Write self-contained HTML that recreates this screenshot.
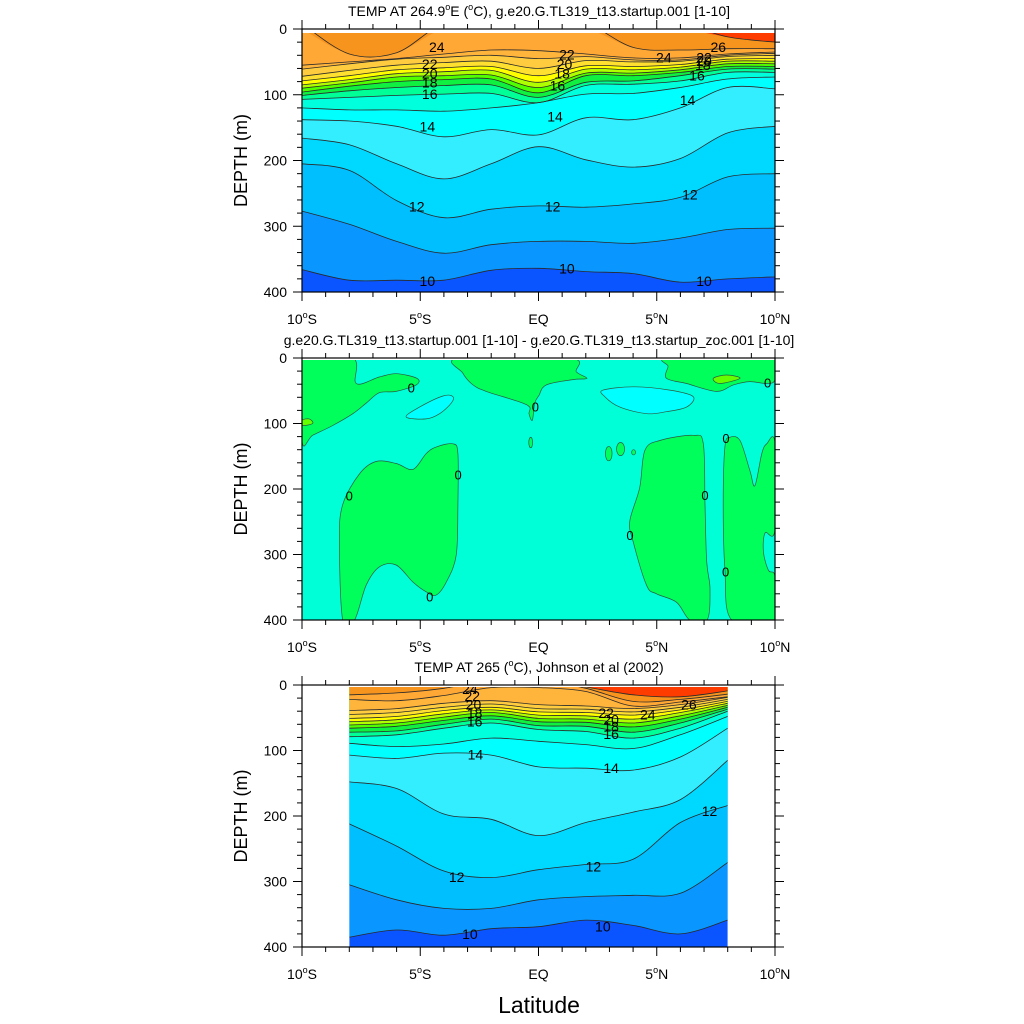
<!DOCTYPE html>
<html><head><meta charset="utf-8"><title>TEMP sections</title>
<style>
html,body{margin:0;padding:0;background:#fff;}
svg{display:block;font-family:"Liberation Sans",Arial,sans-serif;}
</style></head>
<body>
<svg id="chart" width="1024" height="1024" viewBox="0 0 1024 1024" xmlns="http://www.w3.org/2000/svg">
<g id="root"></g>
</svg>
<script>
// ---------- shared axes ----------
const xTickLats = [-10, -5, 0, 5, 10];
const xTickLabels = ["10°S", "5°S", "EQ", "5°N", "10°N"];
const yTickDepths = [0, 100, 200, 300, 400];

// ---------- panel 1: model temperature ----------
const p1Lats = [-10, -8, -6, -4, -2, 0, 2, 4, 6, 8, 10];
const p1T10 = [366, 382, 382, 382, 367, 364, 369, 372, 385, 380, 377];
const p1T11 = [277, 297, 323, 341, 328, 323, 323, 326, 318, 305, 303];
const p1T12 = [205, 215, 261, 287, 274, 269, 271, 266, 256, 225, 220];
const p1T13 = [166, 176, 205, 228, 205, 179, 199, 210, 197, 158, 148];
const p1T14 = [138, 140, 148, 164, 153, 161, 135, 138, 120, 89, 91];
const p1T15 = [120, 123, 123, 125, 120, 112, 99, 98, 89, 76, 73];
const p1T16 = [107, 104, 101, 99, 98, 112, 86, 84, 79, 66, 66];
const p1T17 = [101, 94, 89, 86, 85, 104, 81, 79, 71, 61, 61];
const p1T18 = [96, 87, 80, 77, 76, 97, 71, 71, 66, 57, 57];
const p1T19 = [90, 82, 73, 71, 70, 89, 67, 67, 62, 53, 53];
const p1T20 = [85, 77, 68, 65, 63, 81, 61, 62, 58, 49, 49];
const p1T21 = [79, 71, 62, 59, 57, 71, 56, 57, 54, 46, 45];
const p1T22 = [72, 63, 55, 51, 49, 60, 48, 50, 49, 42, 40];
const p1T23 = [61, 53, 46, 43, 40, 45, 42, 47, 47, 40, 37];
const p1T24 = [55, 50, 45, 38, 32, 33, 38, 44, 44, 38, 35];
const p1T25 = [0, 38, 36, 0, 0, 0, 0, 28, 32, 30, 30];
const p1T26 = [0, 0, 0, 0, 0, 0, 0, 0, 0, 12, 20];
const p1LabelLat = [-4.3, -4.6, -4.6, -4.6, -4.6, -4.7, -5.15, -4.7, 1.2, 1.1, 1.0, 0.8, 0.7, 0.6, 1.2, 5.3, 7.6, 7.0, 7.0, 6.95, 6.7, 6.3, 6.4, 7.0];
const p1LabelDepth = [27, 53, 68, 81, 99, 148, 270, 383, 39, 53, 68, 86, 133, 270, 364, 43, 27, 43, 49, 55, 71, 108, 252, 383];
const p1LabelText = ["24","22","20","18","16","14","12","10","22","20","18","16","14","12","10","24","26","22","20","18","16","14","12","10"];

// ---------- panel 3: observed temperature ----------
const p3Lats = [-8, -6, -4, -2, 0, 2, 4, 6, 8];
const p3T10 = [385, 374, 382, 372, 369, 359, 367, 380, 359];
const p3T11 = [305, 328, 341, 341, 328, 323, 321, 318, 271];
const p3T12 = [212, 246, 284, 294, 282, 274, 266, 210, 184];
const p3T13 = [148, 158, 197, 205, 230, 210, 194, 175, 115];
const p3T14 = [107, 112, 104, 107, 125, 127, 130, 110, 66];
const p3T15 = [89, 94, 90, 81, 86, 91, 97, 76, 48];
const p3T16 = [79, 76, 66, 58, 68, 71, 81, 66, 40];
const p3T17 = [72, 70, 60, 52, 62, 63, 72, 58, 37];
const p3T18 = [66, 63, 54, 47, 56, 57, 64, 52, 34];
const p3T19 = [61, 58, 49, 42, 51, 52, 58, 47, 31];
const p3T20 = [56, 53, 44, 38, 46, 47, 52, 42, 28];
const p3T21 = [51, 48, 39, 34, 41, 42, 46, 38, 25];
const p3T22 = [45, 42, 34, 29, 36, 37, 41, 34, 22];
const p3T23 = [39, 36, 28, 24, 30, 32, 36, 30, 19];
const p3T24 = [22, 24, 16, 4, 4, 10, 32, 26, 18];
const p3T25 = [15, 12, 5, 0, 0, 5, 25, 22, 14];
const p3T26 = [0, 0, 0, 0, 0, 3, 15, 18, 9];
const p3LabelLat = [-2.9, -2.8, -2.75, -2.7, -2.7, -2.67, -3.46, -2.9, 2.86, 3.07, 3.07, 3.07, 3.07, 2.32, 2.72, 4.62, 6.36, 7.23];
const p3LabelDepth = [6, 17, 30, 43, 56, 106, 293, 380, 43, 53, 63, 75, 127, 277, 369, 45, 30, 192];
const p3LabelText = ["24","22","20","18","16","14","12","10","22","20","18","16","14","12","10","24","26","12"];

// ---------- panel 2: difference (regions as [lat, depth] outlines) ----------
const p2GreenA = [[-10,0],[-7.85,0],[-7.71,39],[-6.73,29],[-6.02,24],[-5.14,31],[-5.17,41],[-6.02,51],[-6.73,53],[-7.29,69],[-7.85,85],[-8.7,103],[-9.55,118],[-10,127]];
const p2GreenB = [[-3.37,0],[1.32,0],[1.6,21],[2.05,31],[1.46,33],[0.33,41],[0.02,57],[-0.16,69],[-0.26,95],[-0.4,85],[-0.37,75],[-0.8,67],[-2.21,51],[-2.77,41],[-3.2,23]];
const p2GreenC = [[5.55,0],[10,0],[10,33],[9.65,39],[8.94,36],[8.24,41],[7.53,51],[6.26,39],[5.41,31],[5.48,13]];
const p2GreenD = [[-8.28,400],[-8.42,280],[-8.28,224],[-7.57,177],[-6.87,158],[-6.02,161],[-5.31,170],[-4.75,146],[-4.33,136],[-3.62,131],[-3.41,146],[-3.41,224],[-3.48,301],[-3.9,342],[-4.33,362],[-4.75,357],[-5.31,342],[-6.02,316],[-6.73,319],[-7.29,347],[-7.78,400]];
const p2GreenE = [[6.4,400],[5.84,373],[4.99,360],[4.57,347],[4.0,280],[3.86,249],[4.28,198],[4.5,141],[5.13,126],[6.54,118],[6.97,131],[7.04,224],[7.11,311],[7.25,352],[7.13,400]];
const p2GreenF = [[8.17,400],[7.88,321],[7.81,224],[7.88,136],[8.09,121],[8.52,126],[8.94,172],[9.15,195],[9.44,146],[9.65,131],[10,130],[10,262],[9.58,267],[9.51,296],[9.72,324],[10,334],[10,400]];
const p2Cyan1 = [[-5.6,90],[-5.03,75],[-4.04,58],[-3.62,59],[-3.69,69],[-4.18,85],[-4.75,93]];
const p2Cyan2 = [[2.73,49],[4.0,44],[5.55,49],[6.54,59],[6.26,75],[5.41,82],[4.57,85],[3.44,75],[2.8,59]];
const p2Lime1 = [[7.39,31],[7.95,26],[8.52,31],[7.67,39]];
const p2Lime2 = [[-10,95],[-9.69,93],[-9.55,100],[-10,103]];
const p2BlobLat = [-0.33, 2.97, 3.47, 4.02];
const p2BlobDepth = [129, 146, 139, 144];
const p2BlobRLat = [0.08, 0.14, 0.17, 0.08];
const p2BlobRDepth = [8, 11, 10, 4];
const p2ZeroLat = [-5.38, -0.13, -8.0, -3.4, -4.6, 9.69, 7.93, 7.04, 3.87, 7.91];
const p2ZeroDepth = [46, 75, 211, 179, 365, 38, 123, 210, 271, 327];

// ---------- colours ----------
const bandColors = {9:'#0a55ff',10:'#0a96ff',11:'#00bfff',12:'#00d9ff',13:'#33eeff',14:'#00ffff',15:'#00ffdc',16:'#00ff96',17:'#10f040',18:'#50ff00',19:'#b0ff00',20:'#ffff00',21:'#ffe030',22:'#ffcc40',23:'#ffb43c',24:'#ffa836',25:'#f7941e',26:'#ff3c00'};

const NS='http://www.w3.org/2000/svg';
const root=document.getElementById('root');
function mk(tag,attrs,parent){const e=document.createElementNS(NS,tag);for(const k in attrs)e.setAttribute(k,attrs[k]);(parent||root).appendChild(e);return e;}

const X0=302,X1=775;
function xs(lat){return X0+(lat+10)/20*(X1-X0);}
function ysFor(y0,y1){return d=>y0+d/400*(y1-y0);}

function cr(pts){let s=`M${pts[0][0].toFixed(1)},${pts[0][1].toFixed(1)}`;
 for(let i=0;i<pts.length-1;i++){const p0=pts[i-1]||pts[i],p1=pts[i],p2=pts[i+1],p3=pts[i+2]||p2;
  const c1=[p1[0]+(p2[0]-p0[0])/6,p1[1]+(p2[1]-p0[1])/6],c2=[p2[0]-(p3[0]-p1[0])/6,p2[1]-(p3[1]-p1[1])/6];
  s+=` C${c1[0].toFixed(1)},${c1[1].toFixed(1)} ${c2[0].toFixed(1)},${c2[1].toFixed(1)} ${p2[0].toFixed(1)},${p2[1].toFixed(1)}`;}
 return s;}
function crClosed(pts){const n=pts.length;let s=`M${pts[0][0].toFixed(1)},${pts[0][1].toFixed(1)}`;
 for(let i=0;i<n;i++){const p0=pts[(i-1+n)%n],p1=pts[i],p2=pts[(i+1)%n],p3=pts[(i+2)%n];
  const c1=[p1[0]+(p2[0]-p0[0])/6,p1[1]+(p2[1]-p0[1])/6],c2=[p2[0]-(p3[0]-p1[0])/6,p2[1]-(p3[1]-p1[1])/6];
  s+=` C${c1[0].toFixed(1)},${c1[1].toFixed(1)} ${c2[0].toFixed(1)},${c2[1].toFixed(1)} ${p2[0].toFixed(1)},${p2[1].toFixed(1)}`;}
 return s+'Z';}

function axes(name,y0,y1,title){
 const g=mk('g',{});
 
 
 const ys=ysFor(y0,y1);
 const fr=mk('rect',{x:X0,y:y0,width:X1-X0,height:y1-y0,fill:'none',stroke:'#000','stroke-width':1.2},g);
 
 
 for(let l=-10;l<=10;l++){const major=l%5===0,len=major?9:5,x=xs(l);
  mk('line',{x1:x,x2:x,y1:y1,y2:y1+len,stroke:'#000','stroke-width':1},g);
  mk('line',{x1:x,x2:x,y1:y0,y2:y0-len,stroke:'#000','stroke-width':1},g);}
 for(let d=0;d<=400;d+=20){const major=d%100===0,len=major?9:5,y=ys(d);
  mk('line',{x1:X0,x2:X0-len,y1:y,y2:y,stroke:'#000','stroke-width':1},g);
  mk('line',{x1:X1,x2:X1+len,y1:y,y2:y,stroke:'#000','stroke-width':1},g);}
 xTickLats.forEach((lat,i)=>{const t=mk('text',{x:xs(lat),y:y1+32,'font-size':14,'text-anchor':'middle'},g);
  const lab=xTickLabels[i];
  if(lab.includes('°')){const parts=lab.split('°');t.appendChild(document.createTextNode(parts[0]));
   const sp=mk('tspan',{'font-size':9,dy:-6},t);sp.textContent='o';const sp2=mk('tspan',{dy:6},t);sp2.textContent=parts[1];}
  else t.textContent=lab;
  
  });
 yTickDepths.forEach(d=>{const t=mk('text',{x:287,y:ys(d)+5,'font-size':14,'text-anchor':'end'},g);t.textContent=d;
  
  });
 const yt=mk('text',{x:0,y:0,'font-size':18,'text-anchor':'middle',transform:`translate(247,${(y0+y1)/2}) rotate(-90)`},g);
 yt.textContent='DEPTH (m)';
 
 
 const tt=mk('text',{x:539,y:y0-13,'font-size':14,'text-anchor':'middle'},g);
 title(tt);
 
 
}

function tempPanel(name,y0,y1,lats,levels,arrs,fillTop,lLat,lDep,lTxt){
 const ys=ysFor(y0,y1);
 const la=xs(lats[0]),lb=xs(lats[lats.length-1]);
 const cid=name+'-clip';
 const defs=mk('defs',{});const cp=mk('clipPath',{id:cid},defs);
 mk('rect',{x:la,y:ys(fillTop),width:lb-la,height:ys(400)-ys(fillTop)},cp);
 const g=mk('g',{'clip-path':`url(#${cid})`});
 
 
 const bg=mk('rect',{x:la,y:ys(fillTop),width:lb-la,height:ys(400)-ys(fillTop),fill:bandColors[9]},g);
 
 
 levels.forEach((L,i)=>{const pts=lats.map((lat,j)=>[xs(lat),ys(arrs[i][j])]);
  const p=mk('path',{d:cr(pts)+` L${lb},${ys(-20)} L${la},${ys(-20)} Z`,fill:bandColors[L],stroke:'none'},g);
  
  });
 levels.forEach((L,i)=>{const pts=lats.map((lat,j)=>[xs(lat),ys(arrs[i][j]>0?arrs[i][j]:-8)]);
  const p=mk('path',{d:cr(pts),fill:'none',stroke:'#2a2a2a','stroke-width':0.8},g);
  
  });
 lTxt.forEach((s,i)=>{const x=xs(lLat[i]),y=ys(lDep[i]);
  const t=mk('text',{x:x,y:y+5,'font-size':14,'text-anchor':'middle',fill:'#000'},g);t.textContent=s;
  
  });
}

// Panel 1
tempPanel('panel-model',29,292,p1Lats,[10,11,12,13,14,15,16,17,18,19,20,21,22,23,24,25,26],
 [p1T10,p1T11,p1T12,p1T13,p1T14,p1T15,p1T16,p1T17,p1T18,p1T19,p1T20,p1T21,p1T22,p1T23,p1T24,p1T25,p1T26],6,p1LabelLat,p1LabelDepth,p1LabelText);
axes('panel-model',29,292,t=>{t.appendChild(document.createTextNode('TEMP AT 264.9'));const a=mk('tspan',{'font-size':9,dy:-6},t);a.textContent='o';
 const b=mk('tspan',{dy:6},t);b.textContent='E (';const c=mk('tspan',{'font-size':9,dy:-6},t);c.textContent='o';
 const d=mk('tspan',{dy:6},t);d.textContent='C), g.e20.G.TL319_t13.startup.001 [1-10]';});

// Panel 2
(function(){const y0=358,y1=620,ys=ysFor(y0,y1);
 const defs=mk('defs',{});const cp=mk('clipPath',{id:'p2clip'},defs);
 mk('rect',{x:X0,y:ys(3),width:X1-X0,height:ys(400)-ys(3)},cp);
 const g=mk('g',{'clip-path':'url(#p2clip)'});
 
 
 const bg=mk('rect',{x:X0,y:ys(0),width:X1-X0,height:ys(400)-ys(0),fill:'#00ffd6'},g);
 
 
 const regs=[[p2GreenA,'#00ff5a','green-region'],[p2GreenB,'#00ff5a','green-region'],[p2GreenC,'#00ff5a','green-region'],[p2GreenD,'#00ff5a','green-region'],[p2GreenE,'#00ff5a','green-region'],[p2GreenF,'#00ff5a','green-region'],[p2Cyan1,'#00ffff','cyan-region'],[p2Cyan2,'#00ffff','cyan-region'],[p2Lime1,'#66ff00','lime-region'],[p2Lime2,'#66ff00','lime-region']];
 regs.forEach(r=>{const pts=r[0].map(q=>[xs(q[0]),ys(q[1])]);
  const p=mk('path',{d:crClosed(pts),fill:r[1],stroke:'#2a5a40','stroke-width':0.7},g);
  
  });
 p2BlobLat.forEach((lat,i)=>{const e=mk('ellipse',{cx:xs(lat),cy:ys(p2BlobDepth[i]),rx:p2BlobRLat[i]/20*(X1-X0),ry:p2BlobRDepth[i]/400*(y1-y0),fill:'#00ff5a',stroke:'#2a5a40','stroke-width':0.7},g);
  
  });
 p2ZeroLat.forEach((lat,i)=>{const t=mk('text',{x:xs(lat),y:ys(p2ZeroDepth[i])+4.5,'font-size':13,'text-anchor':'middle'},g);t.textContent='0';
  
  });
 axes('panel-diff',y0,y1,t=>{t.textContent='g.e20.G.TL319_t13.startup.001 [1-10] - g.e20.G.TL319_t13.startup_zoc.001 [1-10]';});
})();

// Panel 3
tempPanel('panel-obs',685,947,p3Lats,[10,11,12,13,14,15,16,17,18,19,20,21,22,23,24,25,26],
 [p3T10,p3T11,p3T12,p3T13,p3T14,p3T15,p3T16,p3T17,p3T18,p3T19,p3T20,p3T21,p3T22,p3T23,p3T24,p3T25,p3T26],3,p3LabelLat,p3LabelDepth,p3LabelText);
axes('panel-obs',685,947,t=>{t.appendChild(document.createTextNode('TEMP AT 265 ('));const a=mk('tspan',{'font-size':9,dy:-6},t);a.textContent='o';
 const b=mk('tspan',{dy:6},t);b.textContent='C), Johnson et al (2002)';});

const xl=mk('text',{x:539,y:1013,'font-size':23,'text-anchor':'middle'});
xl.textContent='Latitude';


</script>
</body></html>
